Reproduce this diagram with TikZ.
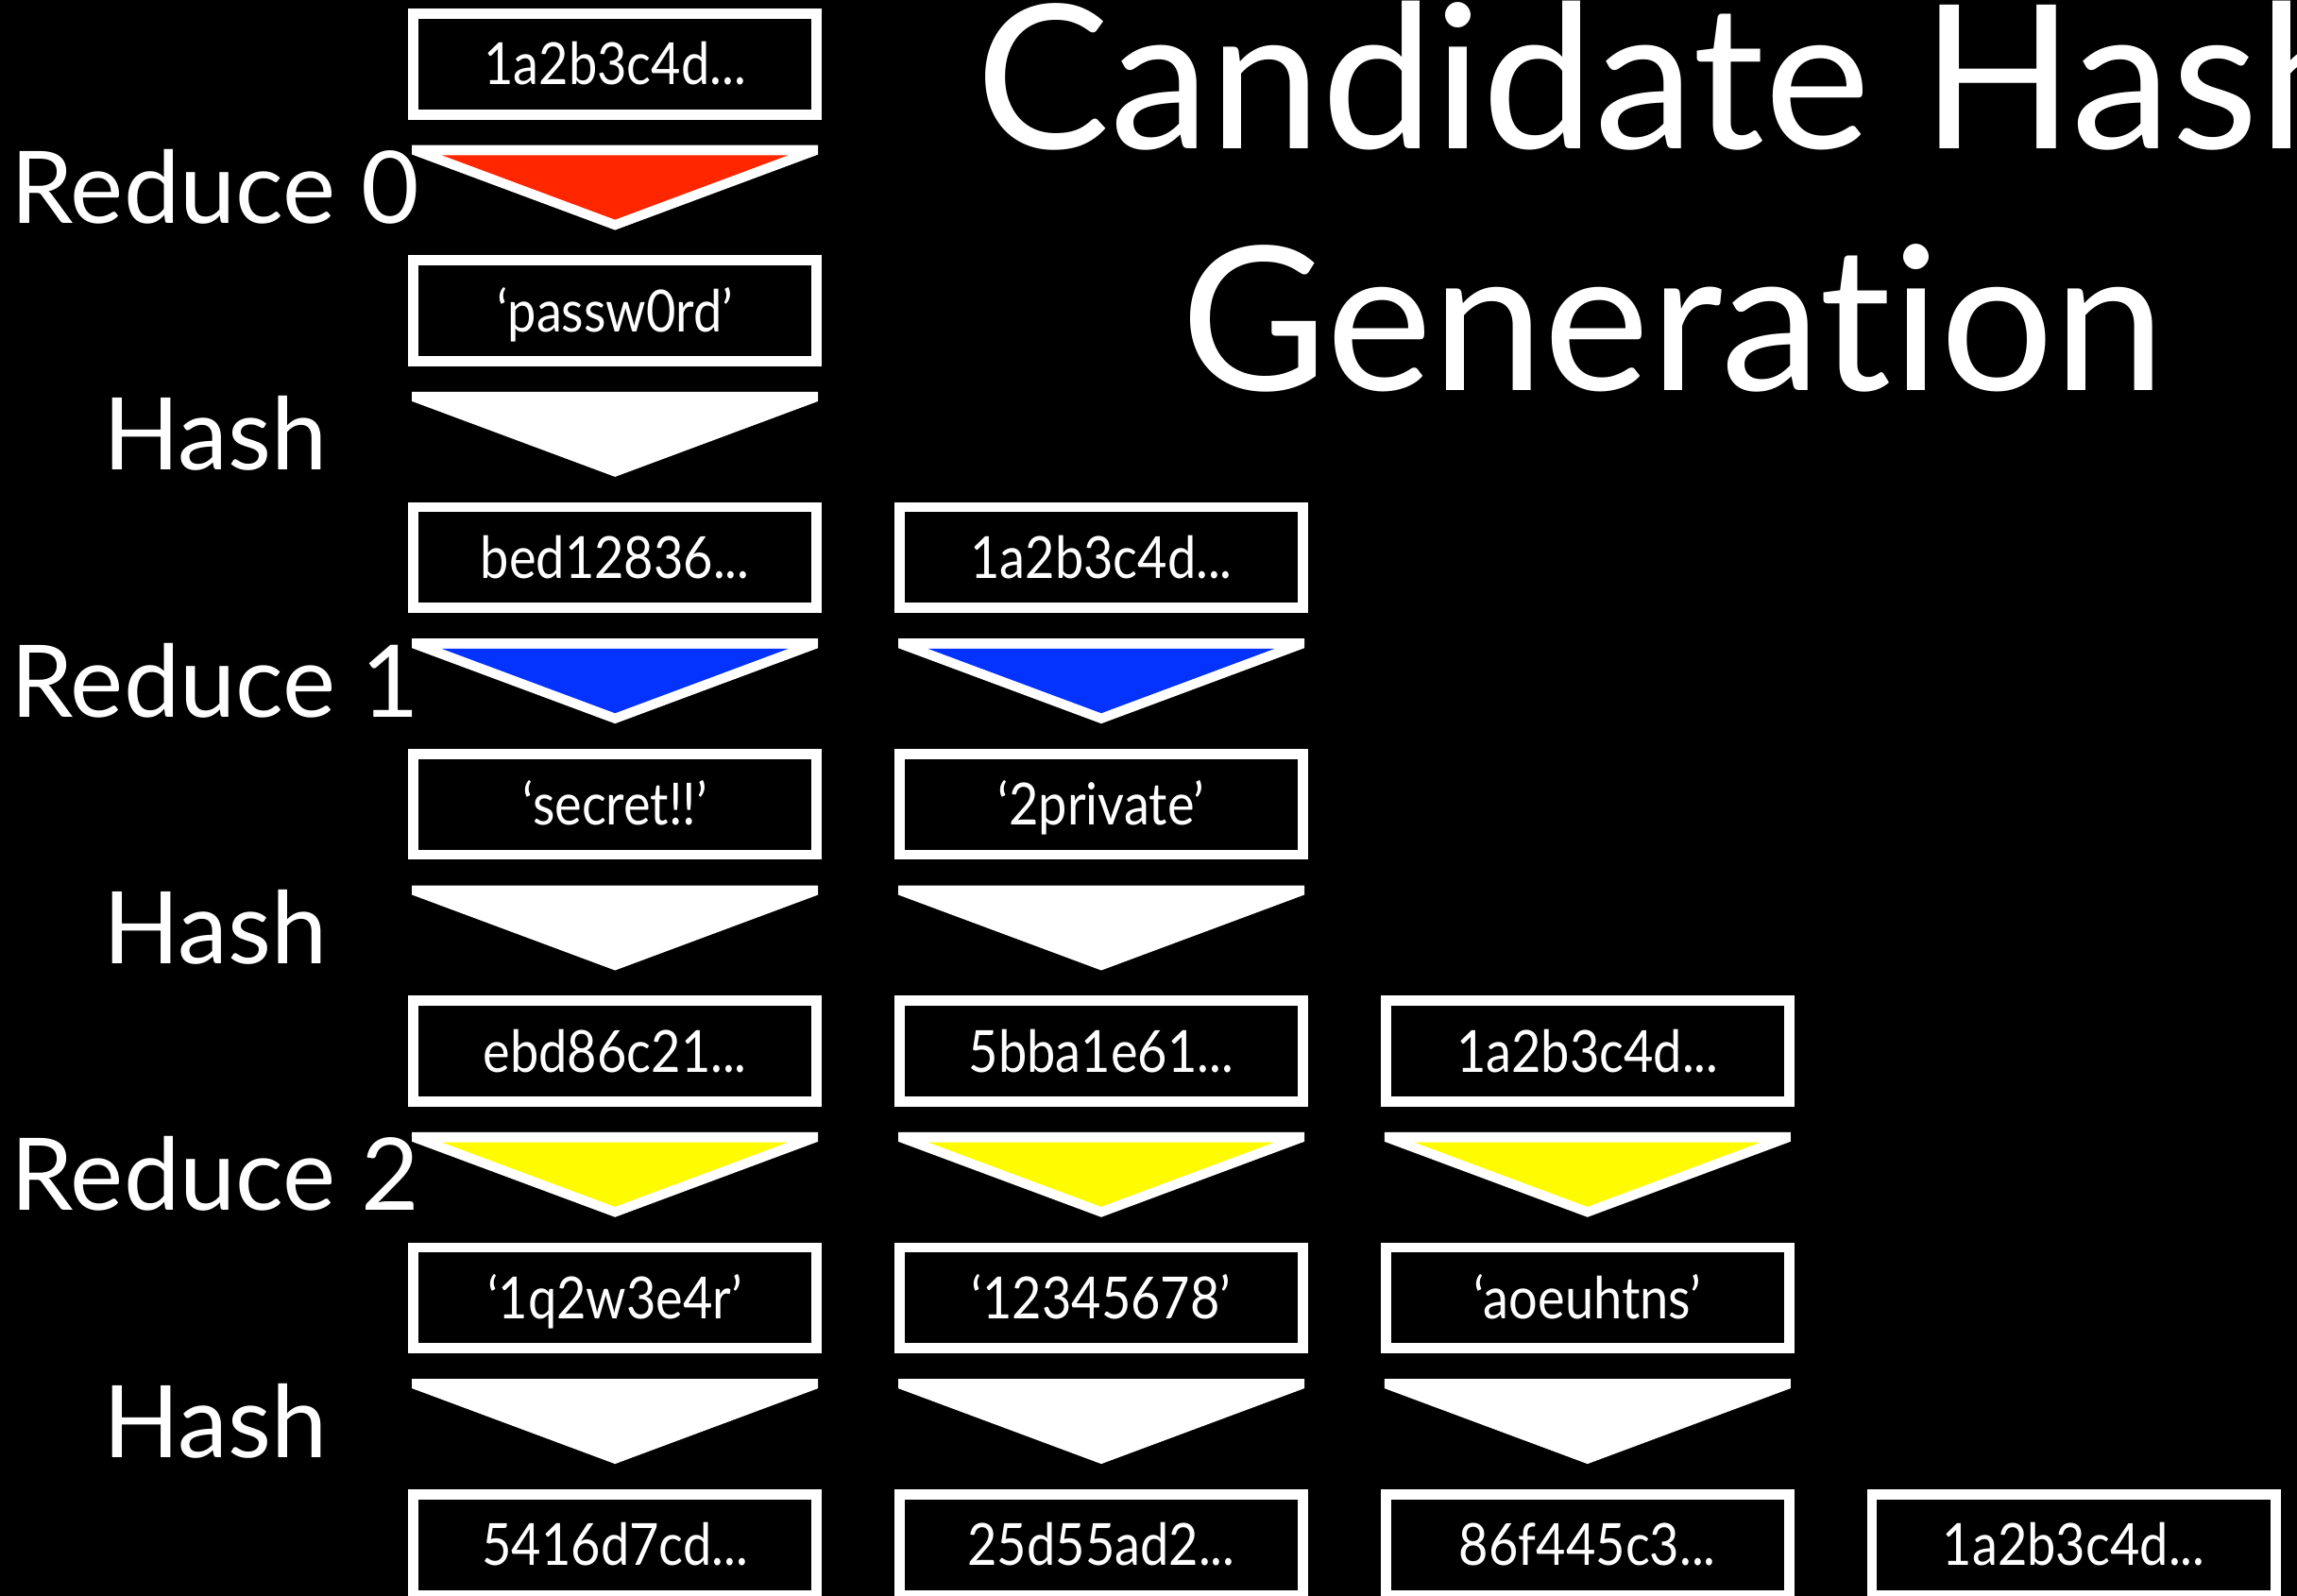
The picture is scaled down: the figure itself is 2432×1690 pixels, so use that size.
\documentclass[tikz,border=0pt]{standalone}
\usepackage{fontspec}
\setmainfont{Lato}[Ligatures=NoCommon]
\newfontfamily\boxfont{Lato}[Ligatures=NoCommon, FakeStretch=0.88]
\usetikzlibrary{calc}
\definecolor{ReduceRed}{RGB}{255,38,0}
\definecolor{ReduceBlue}{RGB}{4,51,255}
\definecolor{ReduceYellow}{RGB}{255,251,0}

% down-pointing wedge under a box (white rim, coloured inside)
\newcommand{\wedgebelow}[2]{%
  \fill[white] ($(#1.center)+(-215,85.8)$) -- ($(#1.center)+(215,85.8)$) -- ($(#1.center)+(215,95.8)$)
    -- ($(#1.center)+(0,175.8)$) -- ($(#1.center)+(-215,95.8)$) -- cycle;
  \fill[#2] ($(#1.center)+(-183.5,96.5)$) -- ($(#1.center)+(183.5,96.5)$) -- ($(#1.center)+(0,164.8)$) -- cycle;
}

\begin{document}
\begin{tikzpicture}[x=0.01cm, y=-0.01cm,
    hashbox/.style={draw=white, line width=0.107cm, fill=black, text=white, minimum width=4.27cm,
      minimum height=1.067cm, inner sep=0pt, outer sep=0pt, text height=0.44cm, text depth=0pt,
      font=\boxfont\fontsize{17.5pt}{21pt}\selectfont},
    steplabel/.style={text=white, anchor=base, inner sep=0pt, font=\fontsize{30.2pt}{36pt}\selectfont},
    slidetitle/.style={text=white, align=center, inner sep=0pt, font=\fontsize{60.4pt}{72.55pt}\selectfont}]
  \fill[black, use as bounding box] (0,0) rectangle (2432,1690);
  \clip (0,0) rectangle (2432,1690);

  % title (runs off the right edge, as on the slide)
  \node[slidetitle, anchor=base] (head) at (1771.5,413) {Candidate Hash\\Generation};

  % first chain
  \node[hashbox] (a0) at (651.2,67.8) {1a2b3c4d...};
  \node[hashbox] (a1) at (651.2,329.1) {‘passw0rd’};
  \node[hashbox] (a2) at (651.2,590.4) {bed12836...};
  \node[hashbox] (a3) at (651.2,851.7) {‘secret!!’};
  \node[hashbox] (a4) at (651.2,1113) {ebd86c21...};
  \node[hashbox] (a5) at (651.2,1374.3) {‘1q2w3e4r’};
  \node[hashbox] (a6) at (651.2,1635.6) {5416d7cd...};

  % second chain
  \node[hashbox] (b2) at (1166,590.4) {1a2b3c4d...};
  \node[hashbox] (b3) at (1166,851.7) {‘2private’};
  \node[hashbox] (b4) at (1166,1113) {5bba1e61...};
  \node[hashbox] (b5) at (1166,1374.3) {‘12345678’};
  \node[hashbox] (b6) at (1166,1635.6) {25d55ad2...};

  % third chain
  \node[hashbox] (c4) at (1680.8,1113) {1a2b3c4d...};
  \node[hashbox] (c5) at (1680.8,1374.3) {‘aoeuhtns’};
  \node[hashbox] (c6) at (1680.8,1635.6) {86f445c3...};

  % fourth
  \node[hashbox] (d6) at (2195.6,1635.6) {1a2b3c4d...};

  % wedges
  \wedgebelow{a0}{ReduceRed}
  \wedgebelow{a1}{white}
  \wedgebelow{a2}{ReduceBlue}
  \wedgebelow{a3}{white}
  \wedgebelow{a4}{ReduceYellow}
  \wedgebelow{a5}{white}
  \wedgebelow{b2}{ReduceBlue}
  \wedgebelow{b3}{white}
  \wedgebelow{b4}{ReduceYellow}
  \wedgebelow{b5}{white}
  \wedgebelow{c4}{ReduceYellow}
  \wedgebelow{c5}{white}

  % step names on the left
  \node[steplabel] (r0) at (228,236.6) {Reduce 0};
  \node[steplabel] (s0) at (228,497.9) {Hash};
  \node[steplabel] (r1) at (228,759.2) {Reduce 1};
  \node[steplabel] (s1) at (228,1020.5) {Hash};
  \node[steplabel] (r2) at (228,1281.8) {Reduce 2};
  \node[steplabel] (s2) at (228,1543.1) {Hash};
\end{tikzpicture}
\end{document}
